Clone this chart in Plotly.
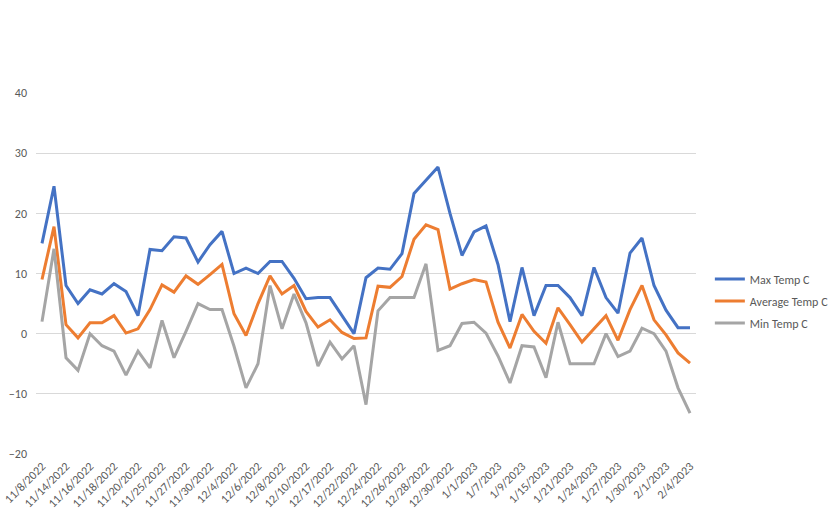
import plotly.graph_objects as go

dates = ["11/8/2022", "11/13/2022", "11/14/2022", "11/15/2022", "11/16/2022", "11/17/2022",
         "11/18/2022", "11/19/2022", "11/20/2022", "11/24/2022", "11/25/2022", "11/26/2022",
         "11/27/2022", "11/29/2022", "11/30/2022", "12/3/2022", "12/4/2022", "12/5/2022",
         "12/6/2022", "12/7/2022", "12/8/2022", "12/9/2022", "12/10/2022", "12/16/2022",
         "12/17/2022", "12/21/2022", "12/22/2022", "12/23/2022", "12/24/2022", "12/25/2022",
         "12/26/2022", "12/27/2022", "12/28/2022", "12/29/2022", "12/30/2022", "12/31/2022",
         "1/1/2023", "1/6/2023", "1/7/2023", "1/8/2023", "1/9/2023", "1/14/2023",
         "1/15/2023", "1/20/2023", "1/21/2023", "1/23/2023", "1/24/2023", "1/26/2023",
         "1/27/2023", "1/29/2023", "1/30/2023", "1/31/2023", "2/1/2023", "2/3/2023", "2/4/2023"]

max_temp = [15, 24.5, 8, 5, 7.3, 6.6, 8.3, 7, 3, 14, 13.8, 16.1, 15.9, 11.9, 14.8, 17, 10, 10.9,
            10, 12, 12, 9.2, 5.8, 6, 6, 3, 0, 9.3, 10.9, 10.7, 13.3, 23.3, 25.5, 27.7, 20, 13,
            16.9, 17.9, 11.5, 2, 11, 3, 8, 8, 6, 3, 11, 6, 3.4, 13.4, 15.9, 8, 3.9, 1, 1]

avg_temp = [9, 17.8, 1.5, -0.7, 1.8, 1.8, 3, 0.1, 0.8, 4, 8.1, 6.9, 9.6, 8.2, 9.8, 11.5, 3.3, -0.3,
            5, 9.6, 6.6, 8, 3.7, 1.1, 2.3, 0.2, -0.8, -0.7, 7.9, 7.7, 9.5, 15.7, 18.1, 17.3, 7.4, 8.3,
            9, 8.6, 1.9, -2.4, 3.2, 0.4, -1.6, 4.3, 1.5, -1.4, 0.8, 3, -1.1, 4, 8, 2.3, -0.2, -3.2, -4.9]

min_temp = [2, 14.1, -4, -6.1, 0, -2, -2.9, -6.9, -2.9, -5.7, 2.2, -4, 0.4, 5, 4, 4, -2.1, -9,
            -5, 8, 0.8, 6.6, 1.8, -5.4, -1.4, -4.2, -2, -11.8, 3.8, 6, 6, 6, 11.6, -2.8, -2, 1.7,
            1.9, 0.1, -3.7, -8.2, -2, -2.2, -7.3, 1.9, -5, -5, -5, 0, -3.8, -2.9, 0.9, 0, -2.9, -9, -13.2]

series = [("Max Temp C", max_temp, "#4472C4"),
          ("Average Temp C", avg_temp, "#ED7D31"),
          ("Min Temp C", min_temp, "#A5A5A5")]

fig = go.Figure()
for name, vals, color in series:
    fig.add_trace(go.Scatter(x=dates, y=vals, mode="lines", name=name, legendgroup=name,
                             line=dict(color=color, width=3)))

font = "Carlito, Lato, 'Liberation Sans', sans-serif"
fig.update_layout(
    width=836, height=515,
    margin=dict(l=36, r=140, t=93, b=61, autoexpand=False),
    paper_bgcolor="white", plot_bgcolor="white",
    font=dict(family=font, size=12, color="#595959"),
    showlegend=True,
    legend=dict(x=1.021, y=0.424, xanchor="left", yanchor="middle",
                font=dict(size=12, color="#595959"), traceorder="grouped",
                tracegroupgap=3, itemwidth=30),
    xaxis=dict(type="category", range=[-0.5, 54.5], showgrid=False, zeroline=False,
               automargin=False,
               tickmode="array", tickvals=dates[::2], ticktext=dates[::2],
               tickangle=-45, ticks="", tickfont=dict(size=12, color="#595959"),
               ticklabelstandoff=2),
    yaxis=dict(range=[-20, 40], dtick=10, showgrid=True, gridcolor="#D9D9D9", gridwidth=1,
               automargin=False,
               zeroline=False, ticks="", tickfont=dict(size=12, color="#595959"),
               ticklabelstandoff=8),
)

# Remove the default page margin so the figure fills the window from its top-left corner.
fig.write_html("out.html",
               config={"displayModeBar": False},
               post_script="document.body.style.margin='0';document.body.style.overflow='hidden';")
